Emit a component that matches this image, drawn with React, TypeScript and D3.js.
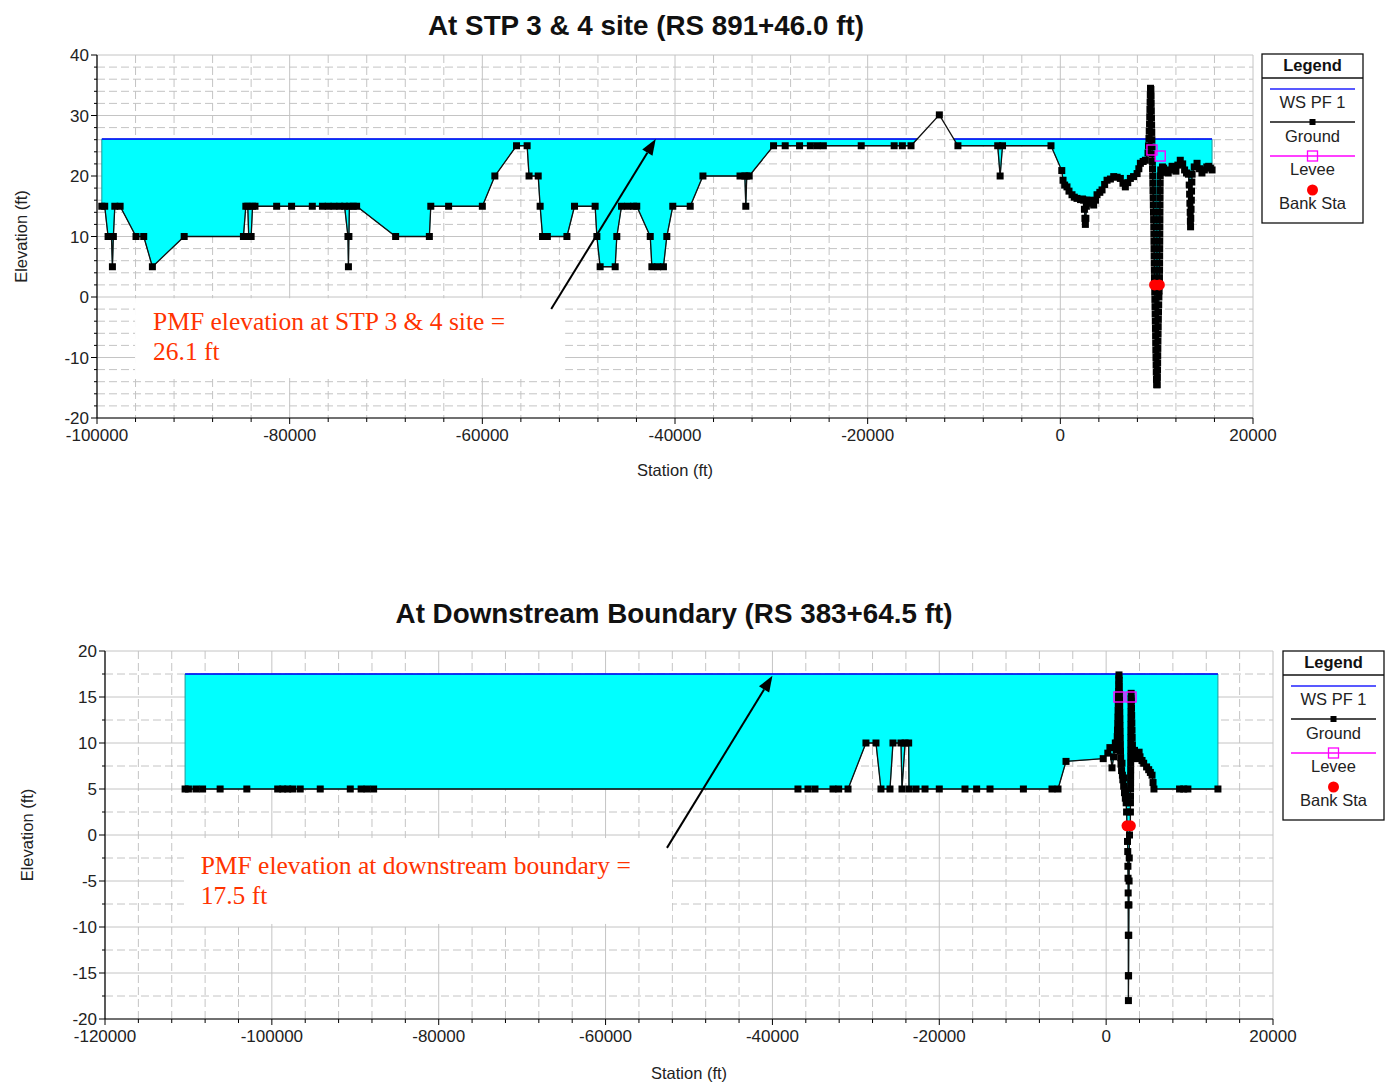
import React from "react";
import * as d3 from "d3";

// ---------------- Top chart data ----------------
const topTitle = "At STP 3 & 4 site (RS 891+46.0 ft)";
const topWS = 26.1;
const topStation = [
  -99500, -99200, -98850, -98500, -98400, -98300, -98150, -97600, -95950, -95150,
  -94250, -90950, -84800, -84550, -84350, -84250, -84000, -83850, -83600, -81350,
  -79800, -77650, -76600, -76000, -75400, -74800, -74300, -73950, -73900, -73850,
  -73800, -73400, -73050, -69000, -65500, -65350, -63500, -60000, -58700, -56450,
  -55350, -55150, -54200, -54000, -53750, -53250, -51220, -50430, -48290, -48110,
  -47770, -46210, -46040, -45550, -44900, -44300, -43970, -42570, -42400, -41800,
  -41200, -40850, -40230, -38420, -37100, -33250, -32750, -32650, -32550, -32300,
  -29770, -28560, -27070, -25950, -25250, -24600, -20670, -17250, -16400, -15500,
  -12560, -10630, -6500, -6250, -6000, -970,
  150, 280, 450, 690, 900, 1210, 1450, 1730, 2100, 2300,
  2420, 2500, 2550, 2600, 2650, 2700, 2750, 2940, 3200, 3460,
  3650, 3810, 4100, 4330, 4600, 4850, 5200, 5540, 5900, 6230,
  6500, 6750, 7000, 7270, 7600, 7970, 8150, 8310, 8600, 8830,
  9100, 9150, 9200, 9230, 9260, 9280, 9300, 9320, 9340, 9360,
  9400, 9420, 9430, 9445, 9460, 9475, 9490, 9505, 9520, 9540,
  9555, 9570, 9590, 9605, 9620, 9640, 9655, 9670, 9685, 9700,
  9710, 9720, 9730, 9740, 9750, 9760, 9770, 9780, 9800, 9815,
  9830, 9845, 9860, 9875, 9890, 9900, 9915, 9930, 9945, 9960,
  9980, 10000, 10060, 10075, 10090, 10100, 10110, 10120, 10130, 10145,
  10160, 10175, 10190, 10210, 10230, 10255, 10280, 10290, 10300, 10305,
  10310, 10315, 10320, 10325, 10330, 10335, 10340, 10345, 10350, 10355,
  10362, 10370, 10420, 10600, 10720, 10900, 11200, 11400, 11600, 11800,
  12000, 12200, 12450, 12700, 12900, 13100, 13300, 13380, 13420, 13450,
  13480, 13500, 13520, 13540, 13570, 13600, 13620, 13650, 13680, 13900,
  14190, 14450, 14700, 14950, 15200, 15400, 15580, 15750,
];
const topElev = [
  15, 15, 10, 10, 5, 10, 15, 15, 10, 10,
  5, 10, 10, 15, 15, 10, 10, 15, 15, 15,
  15, 15, 15, 15, 15, 15, 15, 10, 5, 10,
  15, 15, 15, 10, 10, 15, 15, 15, 20, 25,
  25, 20, 20, 15, 10, 10, 10, 15, 15, 10,
  5, 5, 10, 15, 15, 15, 15, 10, 5, 5,
  5, 10, 15, 15, 20, 20, 20, 15, 20, 20,
  25, 25, 25, 25, 25, 25, 25, 25, 25, 25,
  30.1, 25, 25, 20, 25, 25,
  20.9, 19.3, 18.5, 18.2, 17.5, 16.9, 16.5, 16.3, 16.1, 16.2,
  16.0, 14.5, 13, 12, 13, 15, 16, 16, 15.5, 15.2,
  16, 16.9, 17.3, 17.7, 18.6, 19.3, 19.5, 19.9, 19.8, 19.6,
  18.8, 18.2, 18.9, 19.6, 19.9, 20.4, 21.2, 22.1, 22.4, 22.6,
  23.8, 25, 26.2, 27.4, 28.6, 29.8, 31, 32.2, 33.4, 34.5,
  34.3, 33.2, 32, 30.8, 29.6, 28.4, 27.2, 26, 24.8, 23.6,
  22.4, 21.2, 20, 18.8, 17.6, 16.4, 15.2, 14, 12.8, 11.6,
  10.4, 9.2, 8, 6.8, 5.6, 4.4, 3.2, 2, 0.8, -0.4,
  -1.6, -2.8, -4, -5.2, -6.4, -7.6, -8.8, -10, -11.2, -12.4,
  -13.6, -14.5, -14.5, -13.3, -12.1, -10.9, -9.7, -8.5, -7.3, -6.1,
  -4.9, -3.7, -2.5, -1.3, 0, 1, 2, 3.2, 4.4, 5.6,
  6.8, 8, 9.2, 10.4, 11.6, 12.8, 14, 15.2, 16.4, 17.6,
  18.8, 20, 21, 21.5, 21.3, 20.6, 20.5, 21, 21.6, 21.2,
  20.8, 21.8, 22.6, 22, 21, 20.5, 20.3, 18.5, 17, 15.5,
  14, 12.5, 11.6, 13, 14.5, 16, 17.5, 19, 20.3, 21.5,
  22.1, 21.2, 20.5, 21, 21.5, 21.6, 21.3, 21,
];
const topLeveeStation = [9510, 10370];
const topLeveeElev = [24.3, 23.3];
const topBankStation = [9780, 10280];
const topBankElev = [2.0, 2.0];
const topXTicks = [-100000, -80000, -60000, -40000, -20000, 0, 20000];
const topYTicks = [-20, -10, 0, 10, 20, 30, 40];
const topNoteLines = ["PMF elevation at STP 3 & 4 site =", "26.1 ft"];

// ---------------- Bottom chart data ----------------
const botTitle = "At Downstream Boundary (RS 383+64.5 ft)";
const botWS = 17.5;
const botStation = [
  -110400, -110000, -109100, -108300, -106200, -103000, -99300, -98700, -98100, -97500,
  -96600, -94200, -90600, -89300, -88600, -87800, -36940, -35740, -34900, -32740,
  -32060, -30940, -28790, -27590, -26990, -25910, -25550, -24590, -24470, -24100,
  -23670, -23630, -22790, -21710, -20000, -16920, -15520, -13920, -9920, -6490,
  -5770, -4810, -350, 200, 450, 700, 900, 1100, 1200, 1250,
  1300, 1330, 1360, 1390, 1410, 1430, 1450, 1470, 1490, 1505,
  1520, 1540, 1560, 1575, 1590, 1605, 1620, 1635, 1650, 1660,
  1675, 1690, 1705, 1720, 1740, 1780, 1850, 1900, 1950, 2000,
  2100, 2150, 2200, 2300, 2350, 2400, 2450, 2500, 2560, 2590,
  2610, 2625, 2640, 2650, 2660, 2665, 2670, 2690, 2710, 2730,
  2750, 2770, 2800, 2900, 2910, 2915, 2920, 2925, 2930, 2935,
  2940, 2945, 2950, 2955, 2960, 2963, 2966, 2970, 2975, 2980,
  2985, 2990, 3000, 3020, 3040, 3060, 3080, 3100, 3120, 3150,
  3200, 3300, 3400, 3550, 3800, 3950, 4060, 4300, 4500, 4850,
  5100, 5300, 5500, 5620, 5730, 8800, 9300, 9800, 13400,
];
const botElev = [
  5, 5, 5, 5, 5, 5, 5, 5, 5, 5,
  5, 5, 5, 5, 5, 5, 5, 5, 5, 5,
  5, 5, 10, 10, 5, 5, 10, 10, 5, 10,
  10, 5, 5, 5, 5, 5, 5, 5, 5, 5,
  5, 8, 8.3, 8.9, 9.5, 7.3, 8.5, 10, 9.3, 9.3,
  10, 10.7, 11.4, 12.1, 12.8, 13.5, 14.2, 14.9, 15.6, 16.3,
  17, 17.4, 16.8, 16.1, 15.4, 14.7, 14, 13.3, 12.6, 11.9,
  11.2, 10.5, 9.8, 9.1, 8.4, 7.7, 7, 7.8, 6.5, 6,
  5.3, 6.2, 4.6, 4, 4.8, 3.5, 2.5, 1, -0.7, -1.8,
  -3.4, -4.7, -6.3, -7.6, -10.9, -15.3, -18, -15.3, -10.9, -7.6,
  -5, -2.5, 0, 1, 2.5, 3.5, 4.2, 5, 5.7, 6.4,
  7.1, 7.8, 8.5, 9.2, 9.9, 10.6, 11.3, 12, 12.7, 13.4,
  14.1, 14.8, 15.4, 14.6, 13.8, 13, 12.2, 11.4, 10.6, 9.8,
  9, 8.6, 9.2, 8.3, 8.5, 9, 8.5, 8.1, 7.8, 7.4,
  7.1, 6.8, 6.5, 5.7, 5, 5, 5, 5, 5,
];
const botLeveeStation = [1540, 2980];
const botLeveeElev = [15, 15];
const botBankStation = [2500, 2900];
const botBankElev = [1.0, 1.0];
const botXTicks = [-120000, -100000, -80000, -60000, -40000, -20000, 0, 20000];
const botYTicks = [-20, -15, -10, -5, 0, 5, 10, 15, 20];
const botNoteLines = ["PMF elevation at downstream boundary =", "17.5 ft"];

const legendLabels = ["WS PF 1", "Ground", "Levee", "Bank Sta"];

const SANS = "Arial, 'Liberation Sans', sans-serif";
const SERIF = "'Times New Roman', 'Liberation Serif', serif";
const GRID = "#c4c4c4";

type Pt = { s: number; e: number };

function wetRegions(st: number[], el: number[], ws: number): Pt[][] {
  const pts: Pt[] = [];
  for (let i = 0; i < st.length; i++) {
    if (i > 0) {
      const a = el[i - 1], b = el[i];
      if ((a - ws) * (b - ws) < 0) {
        const t = (ws - a) / (b - a);
        pts.push({ s: st[i - 1] + t * (st[i] - st[i - 1]), e: ws });
      }
    }
    pts.push({ s: st[i], e: el[i] });
  }
  const regions: Pt[][] = [];
  let cur: Pt[] = [];
  for (let i = 0; i < pts.length; i++) {
    if (i > 0 && (pts[i - 1].e + pts[i].e) / 2 > ws + 1e-9) {
      if (cur.length > 1) regions.push(cur);
      cur = [];
    }
    if (pts[i].e <= ws + 1e-9) cur.push(pts[i]);
  }
  if (cur.length > 1) regions.push(cur);
  return regions;
}

type Cfg = {
  title: string;
  titleX: number;
  titleY: number;
  left: number;
  right: number;
  top: number;
  bottom: number;
  xDomain: [number, number];
  yDomain: [number, number];
  xMinor: number;
  xMajor: number;
  yMinor: number;
  yMajor: number;
  xTicks: number[];
  yTicks: number[];
  station: number[];
  elev: number[];
  ws: number;
  leveeS: number[];
  leveeE: number[];
  bankS: number[];
  bankE: number[];
  noteLines: string[];
  noteBox: [number, number, number, number];
  noteText: [number, number];
  arrowFrom: [number, number];
  arrowTo: [number, number];
  xLabelY: number;
  yLabelX: number;
  legendX: number;
  legendY: number;
};

function Legend({ x, y }: { x: number; y: number }) {
  const cx = x + 50.5;
  const fs = 16.5;
  return (
    <g fontFamily={SANS}>
      <rect x={x} y={y} width={101} height={169} fill="#fff" stroke="#111" strokeWidth={1.3} />
      <line x1={x} x2={x + 101} y1={y + 24} y2={y + 24} stroke="#111" strokeWidth={1.3} />
      <text x={cx} y={y + 17} textAnchor="middle" fontWeight="bold" fontSize={fs} fill="#111">Legend</text>
      <line x1={x + 8} x2={x + 93} y1={y + 35} y2={y + 35} stroke="#2222ff" strokeWidth={1.5} />
      <text x={cx} y={y + 54} textAnchor="middle" fontSize={fs} fill="#222">{legendLabels[0]}</text>
      <line x1={x + 8} x2={x + 93} y1={y + 68} y2={y + 68} stroke="#111" strokeWidth={1.3} />
      <rect x={cx - 3} y={y + 65} width={6} height={6} fill="#000" />
      <text x={cx} y={y + 88} textAnchor="middle" fontSize={fs} fill="#222">{legendLabels[1]}</text>
      <line x1={x + 8} x2={x + 93} y1={y + 102} y2={y + 102} stroke="#ff00ff" strokeWidth={1.3} />
      <rect x={cx - 5} y={y + 97} width={10} height={10} fill="none" stroke="#ff00ff" strokeWidth={1.3} />
      <text x={cx} y={y + 121} textAnchor="middle" fontSize={fs} fill="#222">{legendLabels[2]}</text>
      <circle cx={cx} cy={y + 136} r={5.5} fill="#ff0000" />
      <text x={cx} y={y + 155} textAnchor="middle" fontSize={fs} fill="#222">{legendLabels[3]}</text>
    </g>
  );
}

function Chart({ c }: { c: Cfg }) {
  const x = d3.scaleLinear().domain(c.xDomain).range([c.left, c.right]);
  const y = d3.scaleLinear().domain(c.yDomain).range([c.bottom, c.top]);
  const eps = 1e-6;
  const xs = d3.range(c.xDomain[0], c.xDomain[1] + c.xMinor / 2, c.xMinor);
  const ys = d3.range(c.yDomain[0], c.yDomain[1] + c.yMinor / 2, c.yMinor);
  const isMajor = (v: number, m: number) => Math.abs(v / m - Math.round(v / m)) < eps;

  const regions = wetRegions(c.station, c.elev, c.ws);
  const area = d3
    .area<Pt>()
    .x((d) => x(d.s))
    .y0((d) => y(d.e))
    .y1(() => y(c.ws));
  const ground = d3
    .line<number>()
    .x((_, i) => x(c.station[i]))
    .y((d) => y(d));

  const [bs0, bs1, be0, be1] = c.noteBox;
  const ax0 = x(c.arrowFrom[0]), ay0 = y(c.arrowFrom[1]);
  const ax1 = x(c.arrowTo[0]), ay1 = y(c.arrowTo[1]);
  const ang = Math.atan2(ay1 - ay0, ax1 - ax0);
  const hl = 16, hw = 6;
  const bx = ax1 - hl * Math.cos(ang), by = ay1 - hl * Math.sin(ang);
  const head = [
    [ax1, ay1],
    [bx + hw * Math.sin(ang), by - hw * Math.cos(ang)],
    [bx - hw * Math.sin(ang), by + hw * Math.cos(ang)],
  ]
    .map((p) => p.join(","))
    .join(" ");
  const ms = 7;

  return (
    <g>
      <text x={c.titleX} y={c.titleY} textAnchor="middle" fontFamily={SANS} fontWeight="bold" fontSize={27.8} fill="#111">
        {c.title}
      </text>
      {xs.map((v, i) => (
        <line
          key={"gx" + i}
          x1={x(v)}
          x2={x(v)}
          y1={c.top}
          y2={c.bottom}
          stroke={GRID}
          strokeWidth={1}
          strokeDasharray={isMajor(v, c.xMajor) ? undefined : "8,4"}
        />
      ))}
      {ys.map((v, i) => (
        <line
          key={"gy" + i}
          x1={c.left}
          x2={c.right}
          y1={y(v)}
          y2={y(v)}
          stroke={GRID}
          strokeWidth={1}
          strokeDasharray={isMajor(v, c.yMajor) ? undefined : "8,4"}
        />
      ))}
      <rect x={x(bs0)} y={y(be0)} width={x(bs1) - x(bs0)} height={y(be1) - y(be0)} fill="#fff" />
      {regions.map((r, i) => (
        <g key={"w" + i}>
          <path d={area(r) || ""} fill="#00ffff" stroke="#1a9a9a" strokeWidth={1} />
          <line x1={x(r[0].s)} x2={x(r[r.length - 1].s)} y1={y(c.ws)} y2={y(c.ws)} stroke="#0000ff" strokeWidth={1.5} />
        </g>
      ))}
      <path d={ground(c.elev) || ""} fill="none" stroke="#111" strokeWidth={1.3} />
      {c.elev.map((e, i) => (
        <rect key={"m" + i} x={x(c.station[i]) - ms / 2} y={y(e) - ms / 2} width={ms} height={ms} fill="#000" />
      ))}
      {c.leveeS.map((s, i) => (
        <rect key={"l" + i} x={x(s) - 5} y={y(c.leveeE[i]) - 5} width={10} height={10} fill="none" stroke="#ff00ff" strokeWidth={1.4} />
      ))}
      {c.bankS.map((s, i) => (
        <circle key={"b" + i} cx={x(s)} cy={y(c.bankE[i])} r={5.5} fill="#ff0000" />
      ))}
      {c.noteLines.map((t, i) => (
        <text key={"n" + i} x={x(c.noteText[0])} y={y(c.noteText[1]) + i * 30} fontFamily={SERIF} fontSize={25.5} fill="#ff3300">
          {t}
        </text>
      ))}
      <line x1={ax0} y1={ay0} x2={bx} y2={by} stroke="#000" strokeWidth={2} />
      <polygon points={head} fill="#000" />
      <line x1={c.left} x2={c.left} y1={c.top} y2={c.bottom} stroke="#000" strokeWidth={1.2} />
      <line x1={c.left} x2={c.right} y1={c.bottom} y2={c.bottom} stroke="#000" strokeWidth={1.2} />
      {ys.map((v, i) => (
        <line key={"ty" + i} x1={c.left - (isMajor(v, c.yMajor) ? 6 : 3)} x2={c.left} y1={y(v)} y2={y(v)} stroke="#000" strokeWidth={1} />
      ))}
      {xs.map((v, i) => (
        <line key={"tx" + i} x1={x(v)} x2={x(v)} y1={c.bottom} y2={c.bottom + (isMajor(v, c.xMajor) ? 6 : 4)} stroke="#000" strokeWidth={1} />
      ))}
      {c.yTicks.map((v) => (
        <text key={"yl" + v} x={c.left - 8} y={y(v) + 6} textAnchor="end" fontFamily={SANS} fontSize={17} fill="#222">
          {v}
        </text>
      ))}
      {c.xTicks.map((v) => (
        <text key={"xl" + v} x={x(v)} y={c.bottom + 23} textAnchor="middle" fontFamily={SANS} fontSize={17} fill="#222">
          {v}
        </text>
      ))}
      <text x={(c.left + c.right) / 2} y={c.xLabelY} textAnchor="middle" fontFamily={SANS} fontSize={16.5} fill="#222">
        Station (ft)
      </text>
      <text
        transform={`translate(${c.yLabelX},${(c.top + c.bottom) / 2}) rotate(-90)`}
        textAnchor="middle"
        fontFamily={SANS}
        fontSize={16.5}
        fill="#222"
      >
        Elevation (ft)
      </text>
      <Legend x={c.legendX} y={c.legendY} />
    </g>
  );
}

const topCfg: Cfg = {
  title: topTitle,
  titleX: 646,
  titleY: 35,
  left: 97,
  right: 1253,
  top: 55,
  bottom: 418,
  xDomain: [-100000, 20000],
  yDomain: [-20, 40],
  xMinor: 4000,
  xMajor: 20000,
  yMinor: 2,
  yMajor: 10,
  xTicks: topXTicks,
  yTicks: topYTicks,
  station: topStation,
  elev: topElev,
  ws: topWS,
  leveeS: topLeveeStation,
  leveeE: topLeveeElev,
  bankS: topBankStation,
  bankE: topBankElev,
  noteLines: topNoteLines,
  noteBox: [-96050, -51400, -0.2, -13.4],
  noteText: [-94180, -5.45],
  arrowFrom: [-52850, -2],
  arrowTo: [-42000, 26.1],
  xLabelY: 476,
  yLabelX: 27,
  legendX: 1262,
  legendY: 54,
};

const botCfg: Cfg = {
  title: botTitle,
  titleX: 674,
  titleY: 623,
  left: 105,
  right: 1273,
  top: 651,
  bottom: 1019,
  xDomain: [-120000, 20000],
  yDomain: [-20, 20],
  xMinor: 4000,
  xMajor: 20000,
  yMinor: 2.5,
  yMajor: 5,
  xTicks: botXTicks,
  yTicks: botYTicks,
  station: botStation,
  elev: botElev,
  ws: botWS,
  leveeS: botLeveeStation,
  leveeE: botLeveeElev,
  bankS: botBankStation,
  bankE: botBankElev,
  noteLines: botNoteLines,
  noteBox: [-110530, -52040, -0.33, -9.67],
  noteText: [-108530, -4.24],
  arrowFrom: [-52640, -1.4],
  arrowTo: [-40000, 17.3],
  xLabelY: 1079,
  yLabelX: 33,
  legendX: 1283,
  legendY: 651,
};

export default function App() {
  return (
    <div style={{ position: "absolute", left: 0, top: 0 }}>
      <svg width={1395} height={1082} viewBox="0 0 1395 1082" style={{ display: "block", background: "#fff" }}>
        <Chart c={topCfg} />
        <Chart c={botCfg} />
      </svg>
    </div>
  );
}
